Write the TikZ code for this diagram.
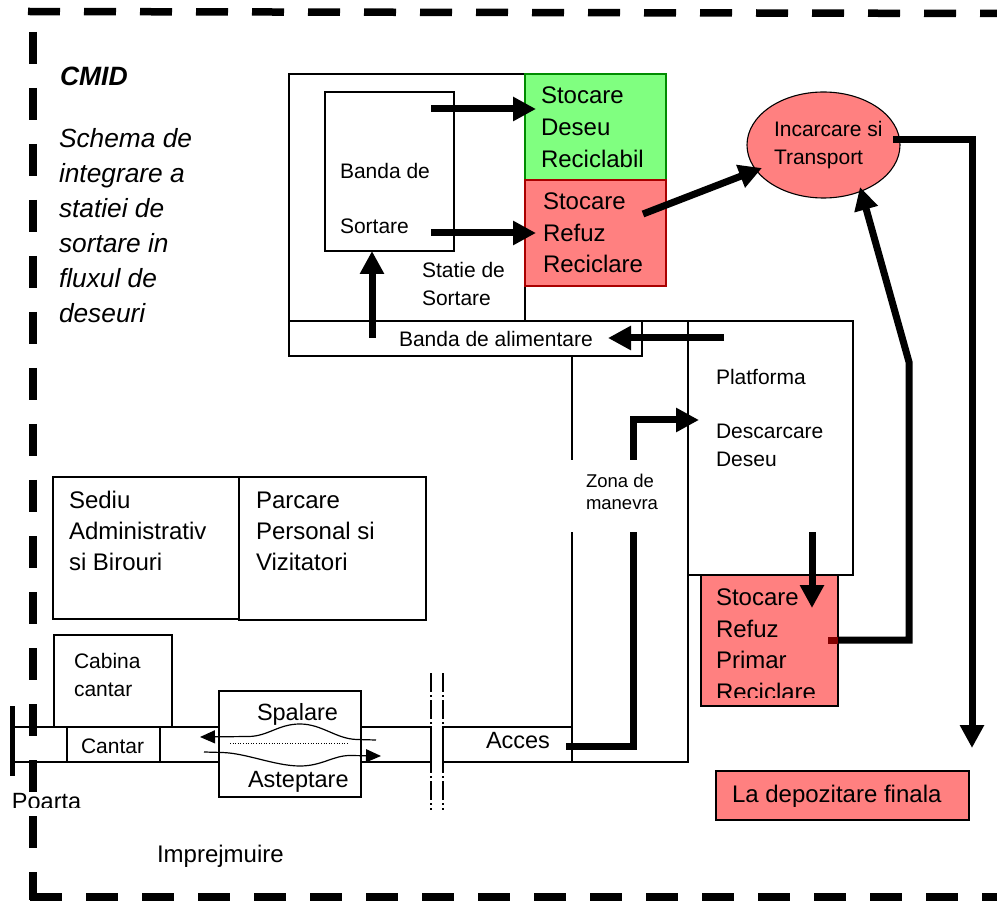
\documentclass[tikz,border=0pt]{standalone}
\usepackage{fontspec}
\setmainfont{Liberation Sans}
\usetikzlibrary{arrows.meta,shapes.geometric}
\definecolor{gfill}{RGB}{128,255,128}
\definecolor{rfill}{RGB}{255,128,128}
\definecolor{dred}{RGB}{128,0,0}
\definecolor{gline}{RGB}{0,140,0}
\definecolor{rline}{RGB}{170,0,0}
\begin{document}
\begin{tikzpicture}[x=1pt,y=-1pt,
 box/.style={draw=black,line width=1.1pt,outer sep=0pt,inner sep=0pt,anchor=north west},
 txt/.style={inner sep=0pt,outer sep=0pt,anchor=base west},
 fa/.style={font=\fontsize{21}{25}\selectfont},
 fb/.style={font=\fontsize{24}{29}\selectfont},
 fc/.style={font=\fontsize{23.5}{28}\selectfont},
 fz/.style={font=\fontsize{18.5}{22}\selectfont},
 fs/.style={font=\fontsize{26.3}{30}\selectfont\itshape},
 arr/.style={line width=7pt,line join=miter,-{Triangle[length=23pt,width=23pt]}},
 seg/.style={line width=7pt,line join=miter},
 tarr/.style={line width=1.2pt,-{Triangle[length=15pt,width=13pt]}},
 border/.style={line width=7.5pt,dash pattern=on 32pt off 24pt},
 dashdot/.style={line width=1.1pt,dash pattern=on 19pt off 3pt on 2pt off 3pt},
]
\useasboundingbox (0,0) rectangle (997,901);

% enclosure
\draw[border] (28,11.5) -- (997,13.5);
\draw[border] (33,32) -- (33,900);
\draw[border] (30,897) -- (997,897);

% zone de manevra
\node[box,minimum width=116pt,minimum height=441pt] (zona) at (572,321) {};
% statie de sortare
\node[box,minimum width=236pt,minimum height=248pt] (statie) at (289,74) {};
\node[box,minimum width=129pt,minimum height=159pt] (bsort) at (325,92) {};
\node[box,draw=gline,fill=gfill,minimum width=141pt,minimum height=106pt] (green) at (525,74) {};
\node[box,draw=rline,fill=rfill,minimum width=141pt,minimum height=106pt] (redr) at (525,180) {};
\node[box,fill=white,minimum width=353pt,minimum height=35pt] (balim) at (289,321) {};
% platforma
\node[box,minimum width=165pt,minimum height=254pt] (plat) at (688,321) {};
\node[box,fill=rfill,minimum width=137pt,minimum height=131pt] (stocp) at (701,575) {};
\node[box,fill=rfill,minimum width=253pt,minimum height=49pt] (depo) at (716,771) {};
\node[draw=black,ellipse,fill=rfill,line width=1.1pt,inner sep=0pt,minimum width=153pt,minimum height=106pt] (trans) at (823.5,145) {};

% left buildings
\node[box,minimum width=186pt,minimum height=142pt] (sediu) at (53,477) {};
\node[box,minimum width=187pt,minimum height=143pt] (parc) at (239,477) {};
\node[box,minimum width=118pt,minimum height=92pt] (cabina) at (54,635) {};

% road
\node[box,minimum width=419pt,minimum height=35pt] (road) at (12,727) {};
\node[box,minimum width=93pt,minimum height=35pt] (cantar) at (67,727) {};
\node[box,fill=white,minimum width=142pt,minimum height=106pt] (spal) at (219,691) {};
\node[box,minimum width=129pt,minimum height=35pt] (acces) at (443,727) {};

% break lines
\coordinate (b1t) at (431,673); \coordinate (b1b) at (431,810);
\coordinate (b2t) at (443,673); \coordinate (b2b) at (443,810);
\draw[dashdot] (b1t) -- (b1b);
\draw[dashdot] (b2t) -- (b2b);

% gate
\coordinate (g1) at (12,706); \coordinate (g2) at (12,776);
\draw[line width=5pt] (g1) -- (g2);

% washing / waiting flows
\coordinate (w1s) at (376,740); \coordinate (w1e) at (200,737);
\draw[tarr] (w1s) -- (357,739.5) .. controls (336,739) and (322,724) .. (300,724)
  .. controls (278,724) and (268,736.5) .. (248,736.5) -- (w1e);
\coordinate (w2s) at (204,752); \coordinate (w2e) at (381,756);
\draw[tarr] (w2s) -- (222,752.5) .. controls (246,753) and (275,766) .. (300,766)
  .. controls (322,766) and (333,755.5) .. (350,755.5) -- (w2e);
\coordinate (d1) at (230,743); \coordinate (d2) at (348,743);
\draw[line width=1pt,dash pattern=on 1pt off 1.6pt] (d1) -- (d2);

% thick flow arrows
\coordinate (a1s) at (372,338); \coordinate (a1e) at (372,251);
\draw[arr] (a1s) -- (a1e);
\coordinate (a2s) at (431,109); \coordinate (a2e) at (536,109);
\draw[arr] (a2s) -- (a2e);
\coordinate (a3s) at (431,233); \coordinate (a3e) at (536,233);
\draw[arr] (a3s) -- (a3e);
\coordinate (a4s) at (643,214); \coordinate (a4e) at (762,168);
\draw[arr] (a4s) -- (a4e);
\coordinate (a5s) at (893,140); \coordinate (a5c) at (972,140); \coordinate (a5e) at (972,748);
\draw[arr] (a5s) -- (a5c) -- (a5e);
\coordinate (a6r) at (828,640); \coordinate (a6s) at (838,640); \coordinate (a6c) at (909,640);
\coordinate (a6d) at (909,362); \coordinate (a6e) at (860,187);
\draw[seg,dred] (a6r) -- (a6s);
\draw[arr] (a6s) -- (a6c) -- (a6d) -- (a6e);
\coordinate (a7s) at (724,338); \coordinate (a7e) at (608,338);
\draw[arr] (a7s) -- (a7e);
\coordinate (a8s) at (566,746); \coordinate (a8c) at (633,746); \coordinate (a8d) at (633,420); \coordinate (a8e) at (699,420);
\draw[arr] (a8s) -- (a8c) -- (a8d) -- (a8e);
\coordinate (a9s) at (812,532); \coordinate (a9e) at (812,608);
\draw[arr] (a9s) -- (a9e);

% zona de manevra label
\node[box,draw=none,fill=white,minimum width=90pt,minimum height=72pt] (zlab) at (570,460) {};
\node[txt,fz] (z1) at (586,487) {Zona de};
\node[txt,fz] (z2) at (586,510) {manevra};

% texts
\node[txt,font=\fontsize{26.5}{30}\selectfont\bfseries\itshape] (cmid) at (60,86) {CMID};
\node[txt,fs] (s1) at (59,148) {Schema de};
\node[txt,fs] (s2) at (59,183) {integrare a};
\node[txt,fs] (s3) at (59,218) {statiei de};
\node[txt,fs] (s4) at (59,253) {sortare in};
\node[txt,fs] (s5) at (59,288) {fluxul de};
\node[txt,fs] (s6) at (59,323) {deseuri};

\node[txt,fa] (bs1) at (340,179) {Banda de};
\node[txt,fa] (bs2) at (340,234) {Sortare};
\node[txt,fa] (st1) at (422,278) {Statie de};
\node[txt,fa] (st2) at (422,306) {Sortare};
\node[txt,fa] (ba1) at (399,347) {Banda de alimentare};

\node[txt,fb] (g1t) at (541,104) {Stocare};
\node[txt,fb] (g2t) at (541,136) {Deseu};
\node[txt,fb] (g3t) at (541,168) {Reciclabil};
\node[txt,fb] (r1t) at (543,210) {Stocare};
\node[txt,fb] (r2t) at (543,242) {Refuz};
\node[txt,fb] (r3t) at (543,273) {Reciclare};

\node[txt,fa] (tr1) at (774,137) {Incarcare si};
\node[txt,fa] (tr2) at (774,165) {Transport};

\node[txt,fa] (p1) at (716,385) {Platforma};
\node[txt,fa] (p2) at (716,439) {Descarcare};
\node[txt,fa] (p3) at (716,467) {Deseu};

\node[txt,fb] (sp1) at (716,605) {Stocare};
\node[txt,fb] (sp2) at (716,637) {Refuz};
\node[txt,fb] (sp3) at (716,668) {Primar};
\begin{scope}
\clip (701,575) rectangle (838,697);
\node[txt,fb] (sp4) at (716,700) {Reciclare};
\end{scope}

\node[txt,fb] (dp) at (732,802) {La depozitare finala};

\node[txt,fb] (se1) at (69,508) {Sediu};
\node[txt,fb] (se2) at (69,539) {Administrativ};
\node[txt,fb] (se3) at (69,570) {si Birouri};
\node[txt,fb] (pa1) at (256,508) {Parcare};
\node[txt,fb] (pa2) at (256,539) {Personal si};
\node[txt,fb] (pa3) at (256,570) {Vizitatori};

\node[txt,fa] (cb1) at (74,668) {Cabina};
\node[txt,fa] (cb2) at (74,696) {cantar};
\node[txt,fa] (ct) at (81,753) {Cantar};

\node[txt,fc] (spt) at (257,720) {Spalare};
\node[txt,fc] (ast) at (248,787) {Asteptare};
\node[txt,fc] (act) at (486,748) {Acces};
\begin{scope}
\clip (0,780) rectangle (120,807);
\node[txt,fc] (poa) at (12,809) {Poarta};
\end{scope}
\node[txt,fb] (imp) at (157,862) {Imprejmuire};
\end{tikzpicture}
\end{document}
